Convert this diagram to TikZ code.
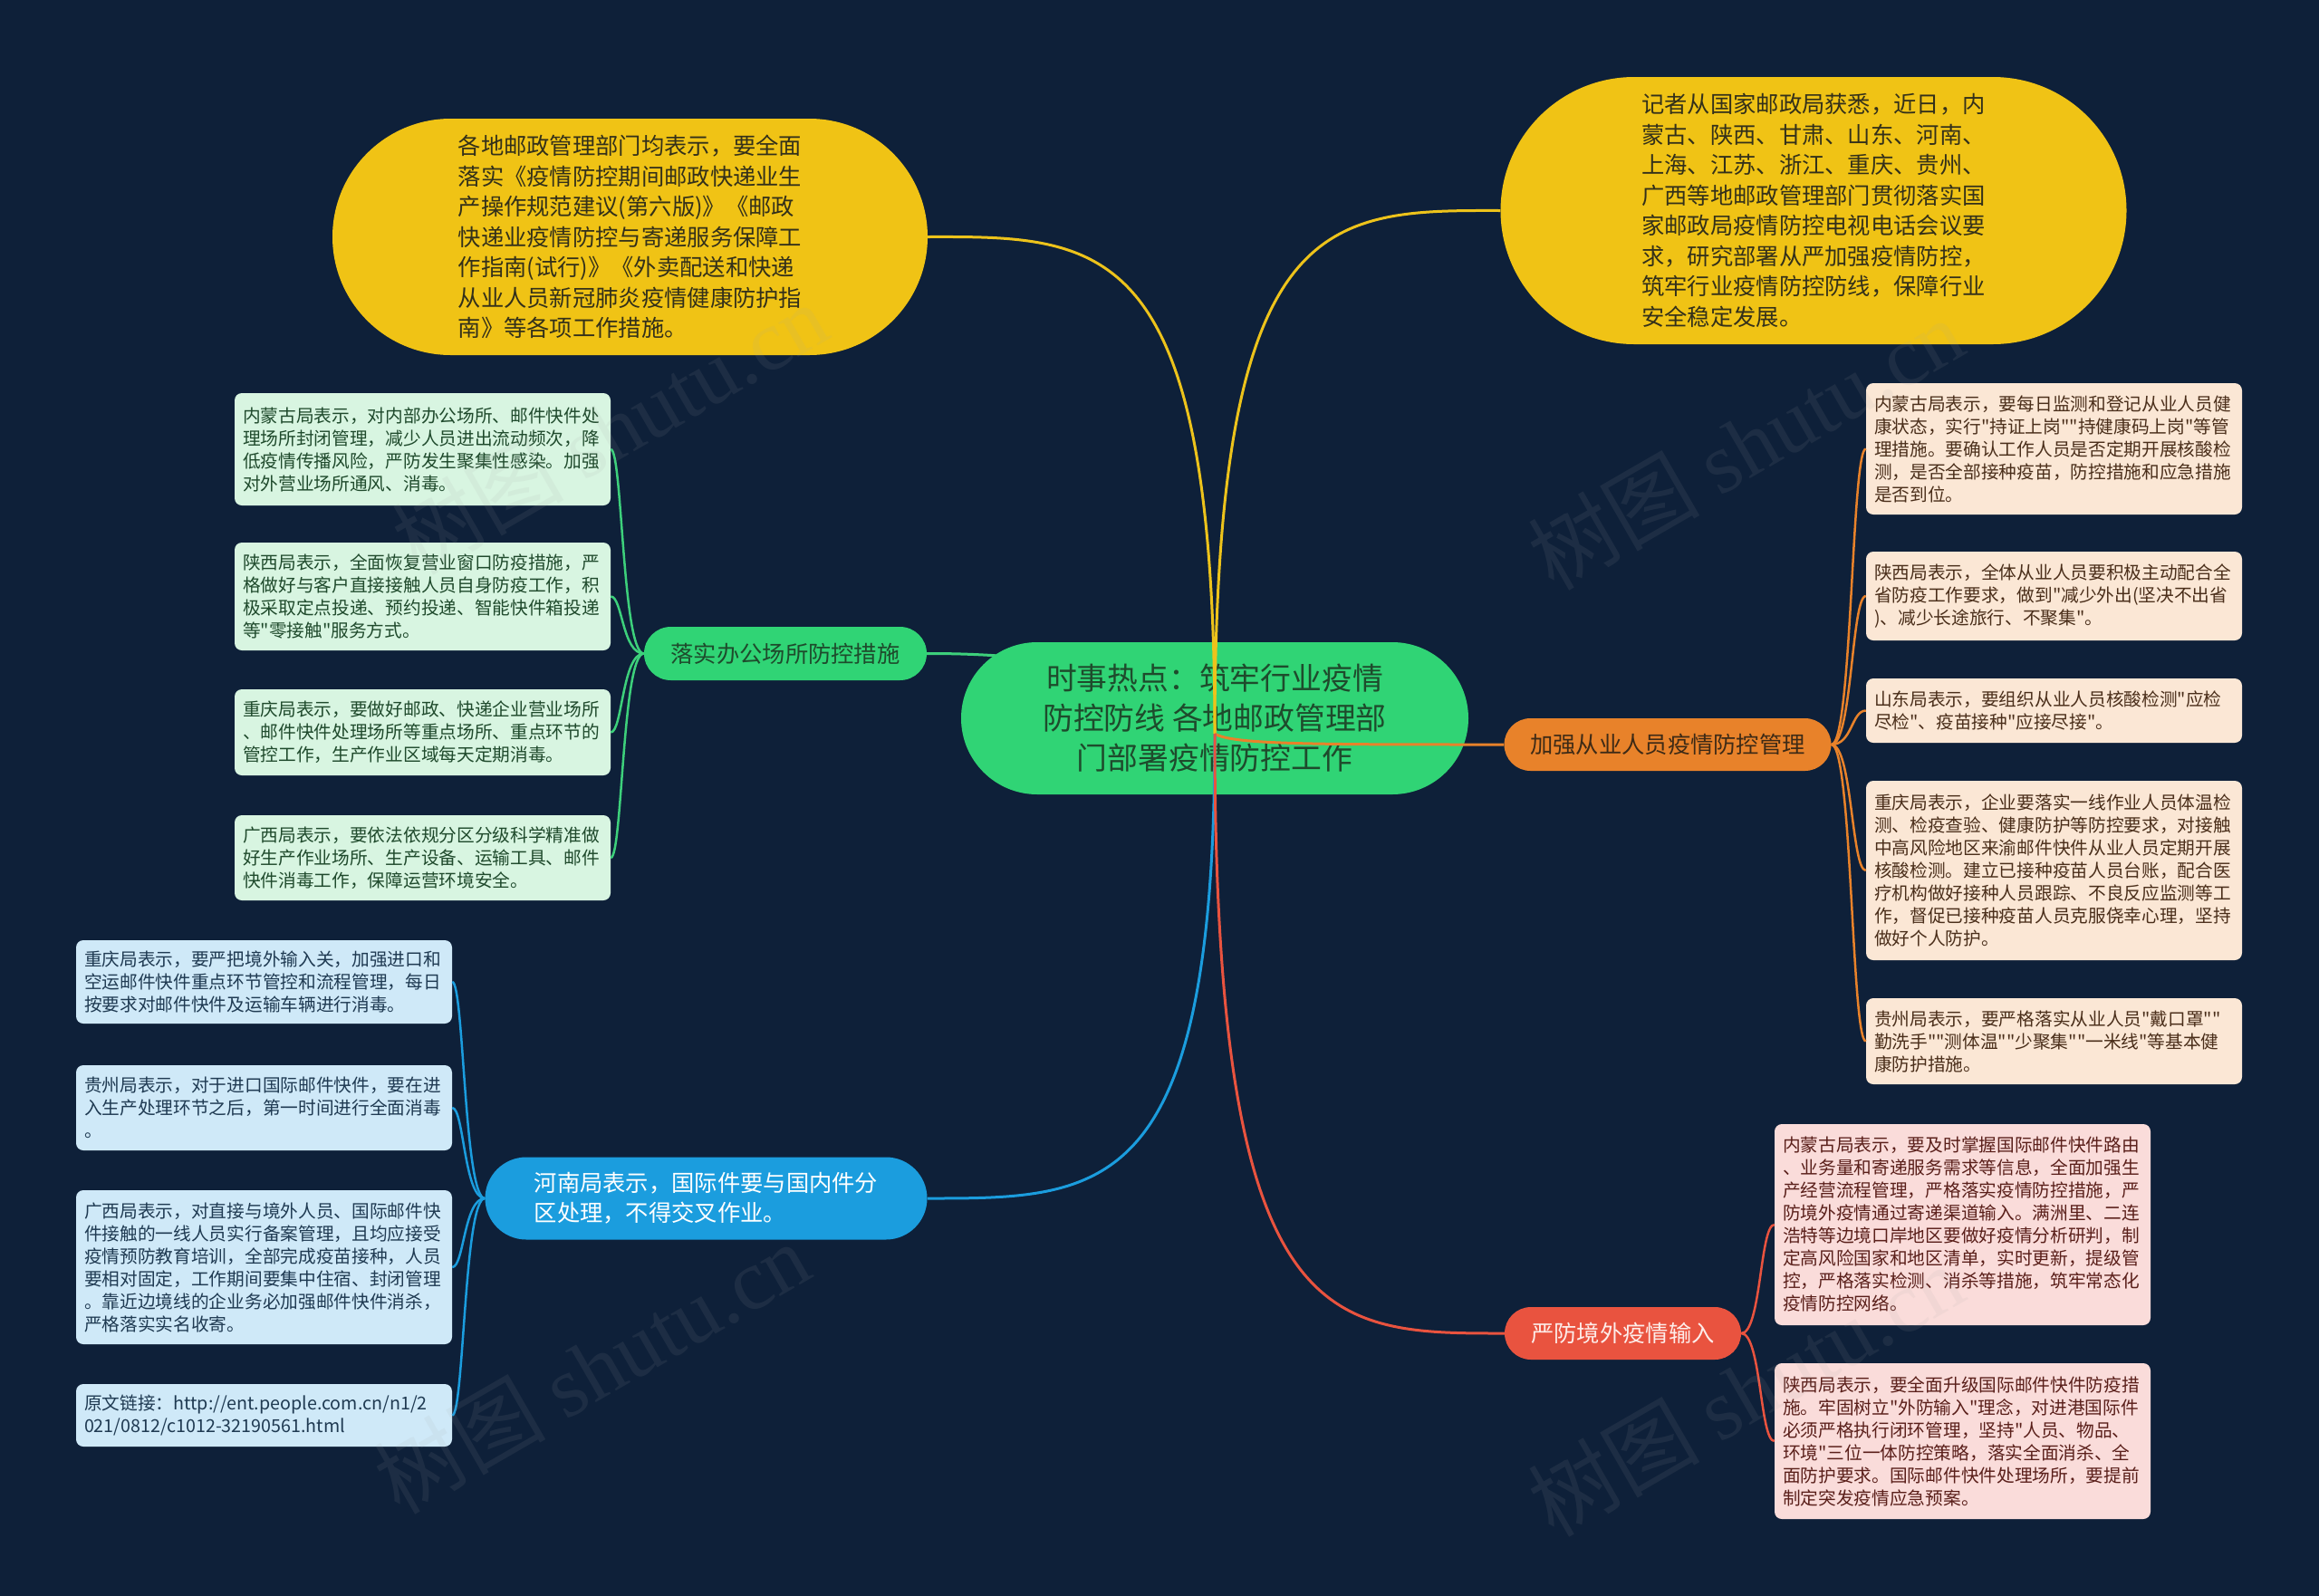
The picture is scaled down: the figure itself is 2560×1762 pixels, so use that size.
\documentclass[tikz,border=0pt]{standalone}
\usepackage{fontspec}
\setmainfont{Noto Sans CJK SC}
\newfontfamily\cjk{Noto Sans CJK SC}
\newfontfamily\wmserif{Liberation Serif}
\usetikzlibrary{shapes.misc}
\definecolor{bg}{HTML}{0E2039}
\definecolor{yel}{HTML}{F0C315}
\definecolor{yeltext}{HTML}{33301A}
\definecolor{ctrgreen}{HTML}{30D475}
\definecolor{ctrtext}{HTML}{1E4B2C}
\definecolor{lgreen}{HTML}{3DD07B}
\definecolor{org}{HTML}{E8822A}
\definecolor{orgtext}{HTML}{3D2A16}
\definecolor{redb}{HTML}{E9533F}
\definecolor{redtext}{HTML}{FDEDEA}
\definecolor{blueb}{HTML}{1B9DDE}
\definecolor{lyel}{HTML}{EDC31B}
\definecolor{gleaf}{HTML}{D8F5E1}
\definecolor{gleaftext}{HTML}{1F4A2C}
\definecolor{oleaf}{HTML}{FBE7D5}
\definecolor{oleaftext}{HTML}{4A2E1A}
\definecolor{bleaf}{HTML}{CFE9F8}
\definecolor{bleaftext}{HTML}{1F3A52}
\definecolor{rleaf}{HTML}{FADCDA}
\definecolor{rleaftext}{HTML}{5A1F1A}
\begin{document}
\begin{tikzpicture}[x=1pt,y=-1pt,
  yelbox/.style={rounded rectangle, fill=yel, inner sep=0pt, align=left, text=yeltext,
    font=\cjk\fontsize{25.3}{33.5}\selectfont},
  ctrbox/.style={rounded rectangle, fill=ctrgreen, inner sep=0pt, align=center, text=ctrtext,
    font=\cjk\fontsize{33.8}{44}\selectfont},
  branch/.style={rounded rectangle, inner sep=0pt, align=left,
    font=\cjk\fontsize{25.3}{33}\selectfont},
  leafbase/.style={rectangle, rounded corners=8pt, inner sep=0pt, minimum width=415pt,
    text width=397pt, align=left, font=\cjk\fontsize{19.7}{25}\selectfont},
  gleafbox/.style={leafbase, fill=gleaf, text=gleaftext},
  oleafbox/.style={leafbase, fill=oleaf, text=oleaftext},
  bleafbox/.style={leafbase, fill=bleaf, text=bleaftext},
  rleafbox/.style={leafbase, fill=rleaf, text=rleaftext},
  mainline/.style={line width=3pt},
  leafline/.style={line width=2.5pt},
  wmark/.style={rotate=30, text=gray!70, opacity=0.1, font=\fontsize{95}{95}\selectfont}
]
\fill[bg] (0,0) rectangle (2560,1762);
\useasboundingbox (0,0) rectangle (2560,1762);

\coordinate (c0) at (1341,810);

% top yellow nodes
\node[yelbox, minimum width=657pt, minimum height=261pt] (tl) at (695.5,261.5) {各地邮政管理部门均表示，要全面\\落实《疫情防控期间邮政快递业生\\产操作规范建议(第六版)》《邮政\\快递业疫情防控与寄递服务保障工\\作指南(试行)》《外卖配送和快递\\从业人员新冠肺炎疫情健康防护指\\南》等各项工作措施。};
\node[yelbox, minimum width=691pt, minimum height=295pt] (tr) at (2002,232.5) {记者从国家邮政局获悉，近日，内\\蒙古、陕西、甘肃、山东、河南、\\上海、江苏、浙江、重庆、贵州、\\广西等地邮政管理部门贯彻落实国\\家邮政局疫情防控电视电话会议要\\求，研究部署从严加强疫情防控，\\筑牢行业疫情防控防线，保障行业\\安全稳定发展。};

% branches
\node[branch, fill=ctrgreen, text=ctrtext, minimum width=312pt, minimum height=59pt] (gb) at (867,721.5) {落实办公场所防控措施};
\node[branch, fill=org, text=orgtext, minimum width=361pt, minimum height=58pt] (ob) at (1841,822) {加强从业人员疫情防控管理};
\node[branch, fill=redb, text=redtext, minimum width=261pt, minimum height=58pt] (rb) at (1791.5,1472) {严防境外疫情输入};
\node[branch, fill=blueb, text=white, minimum width=488pt, minimum height=91pt] (bb) at (779.5,1323) {河南局表示，国际件要与国内件分\\区处理，不得交叉作业。};

% green connector under centre
\draw[mainline, lgreen] (gb.east) .. controls (1200,721) and (1341,760) .. (c0);

% centre
\node[ctrbox, minimum width=560pt, minimum height=168pt] (ctr) at (1341,793) {时事热点：筑牢行业疫情\\防控防线 各地邮政管理部\\门部署疫情防控工作};

% main connectors over centre
\draw[mainline, lyel] (c0) .. controls (1341,261) and (1220,261) .. (tl.east);
\draw[mainline, lyel] (c0) .. controls (1341,232) and (1462,232) .. (tr.west);
\draw[mainline, org] (c0) .. controls (1360,822) and (1450,822) .. (ob.west);
\draw[mainline, blueb] (c0) .. controls (1341,1323) and (1220,1323) .. (bb.east);
\draw[mainline, redb] (c0) .. controls (1341,1472) and (1463,1472) .. (rb.west);

% green leaves
\node[gleafbox, minimum height=124pt] (g1) at (466.5,496) {内蒙古局表示，对内部办公场所、邮件快件处\\理场所封闭管理，减少人员进出流动频次，降\\低疫情传播风险，严防发生聚集性感染。加强\\对外营业场所通风、消毒。};
\node[gleafbox, minimum height=119pt] (g2) at (466.5,658.5) {陕西局表示，全面恢复营业窗口防疫措施，严\\格做好与客户直接接触人员自身防疫工作，积\\极采取定点投递、预约投递、智能快件箱投递\\等"零接触"服务方式。};
\node[gleafbox, minimum height=95pt] (g3) at (466.5,808.5) {重庆局表示，要做好邮政、快递企业营业场所\\、邮件快件处理场所等重点场所、重点环节的\\管控工作，生产作业区域每天定期消毒。};
\node[gleafbox, minimum height=94pt] (g4) at (466.5,947) {广西局表示，要依法依规分区分级科学精准做\\好生产作业场所、生产设备、运输工具、邮件\\快件消毒工作，保障运营环境安全。};
\foreach \n in {g1,g2,g3,g4}
  \draw[leafline, lgreen] (gb.west) .. controls +(-24,0) and +(13,0) .. (\n.east);

% orange leaves
\node[oleafbox, minimum height=145pt] (o1) at (2267.5,495.5) {内蒙古局表示，要每日监测和登记从业人员健\\康状态，实行"持证上岗""持健康码上岗"等管\\理措施。要确认工作人员是否定期开展核酸检\\测，是否全部接种疫苗，防控措施和应急措施\\是否到位。};
\node[oleafbox, minimum height=98pt] (o2) at (2267.5,658) {陕西局表示，全体从业人员要积极主动配合全\\省防疫工作要求，做到"减少外出(坚决不出省\\)、减少长途旅行、不聚集"。};
\node[oleafbox, minimum height=71pt] (o3) at (2267.5,784.5) {山东局表示，要组织从业人员核酸检测"应检\\尽检"、疫苗接种"应接尽接"。};
\node[oleafbox, minimum height=198pt] (o4) at (2267.5,961) {重庆局表示，企业要落实一线作业人员体温检\\测、检疫查验、健康防护等防控要求，对接触\\中高风险地区来渝邮件快件从业人员定期开展\\核酸检测。建立已接种疫苗人员台账，配合医\\疗机构做好接种人员跟踪、不良反应监测等工\\作，督促已接种疫苗人员克服侥幸心理，坚持\\做好个人防护。};
\node[oleafbox, minimum height=95pt] (o5) at (2267.5,1149.5) {贵州局表示，要严格落实从业人员"戴口罩""\\勤洗手""测体温""少聚集""一米线"等基本健\\康防护措施。};
\foreach \n in {o1,o2,o3,o4,o5}
  \draw[leafline, org] (ob.east) .. controls +(23,0) and +(-16,0) .. (\n.west);

% blue leaves
\node[bleafbox, minimum height=92pt] (b1) at (291.5,1084) {重庆局表示，要严把境外输入关，加强进口和\\空运邮件快件重点环节管控和流程管理，每日\\按要求对邮件快件及运输车辆进行消毒。};
\node[bleafbox, minimum height=94pt] (b2) at (291.5,1223) {贵州局表示，对于进口国际邮件快件，要在进\\入生产处理环节之后，第一时间进行全面消毒\\。};
\node[bleafbox, minimum height=170pt] (b3) at (291.5,1399) {广西局表示，对直接与境外人员、国际邮件快\\件接触的一线人员实行备案管理，且均应接受\\疫情预防教育培训，全部完成疫苗接种，人员\\要相对固定，工作期间要集中住宿、封闭管理\\。靠近边境线的企业务必加强邮件快件消杀，\\严格落实实名收寄。};
\node[bleafbox, minimum height=69pt] (b4) at (291.5,1562.5) {原文链接：http://ent.people.com.cn/n1/2\\021/0812/c1012-32190561.html};
\foreach \n in {b1,b2,b3,b4}
  \draw[leafline, blueb] (bb.west) .. controls +(-23,0) and +(13,0) .. (\n.east);

% red leaves
\node[rleafbox, minimum height=222pt] (r1) at (2166.5,1352) {内蒙古局表示，要及时掌握国际邮件快件路由\\、业务量和寄递服务需求等信息，全面加强生\\产经营流程管理，严格落实疫情防控措施，严\\防境外疫情通过寄递渠道输入。满洲里、二连\\浩特等边境口岸地区要做好疫情分析研判，制\\定高风险国家和地区清单，实时更新，提级管\\控，严格落实检测、消杀等措施，筑牢常态化\\疫情防控网络。};
\node[rleafbox, minimum height=172pt] (r2) at (2166.5,1591) {陕西局表示，要全面升级国际邮件快件防疫措\\施。牢固树立"外防输入"理念，对进港国际件\\必须严格执行闭环管理，坚持"人员、物品、\\环境"三位一体防控策略，落实全面消杀、全\\面防护要求。国际邮件快件处理场所，要提前\\制定突发疫情应急预案。};
\foreach \n in {r1,r2}
  \draw[leafline, redb] (rb.east) .. controls +(22,0) and +(-16,0) .. (\n.west);

% watermarks
\node[wmark] (w1) at (673,473) {\cjk 树图 {\wmserif shutu.cn}};
\node[wmark] (w2) at (1927,490) {\cjk 树图 {\wmserif shutu.cn}};
\node[wmark] (w3) at (653,1510) {\cjk 树图 {\wmserif shutu.cn}};
\node[wmark] (w4) at (1927,1535) {\cjk 树图 {\wmserif shutu.cn}};
\end{tikzpicture}
\end{document}
